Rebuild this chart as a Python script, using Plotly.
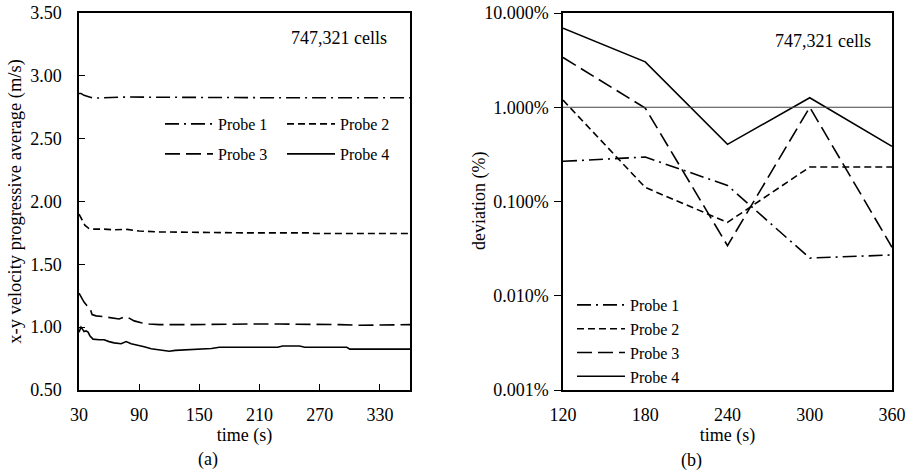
import plotly.graph_objects as go

# ---------------- (a) x-y velocity progressive average ----------------
probe1_t = [30, 32, 35, 38, 42, 46, 55, 65, 80, 100, 130, 160, 200, 240, 280, 320, 360]
probe1_v = [2.86, 2.86, 2.845, 2.835, 2.828, 2.823, 2.826, 2.832, 2.832, 2.83, 2.828, 2.826, 2.825, 2.825, 2.825, 2.825, 2.825]

probe2_t = [30, 33, 36, 40, 45, 55, 65, 78, 90, 110, 130, 150, 160, 200, 260, 265, 300, 360]
probe2_v = [1.90, 1.86, 1.81, 1.785, 1.78, 1.78, 1.775, 1.778, 1.765, 1.758, 1.755, 1.752, 1.752, 1.75, 1.75, 1.745, 1.745, 1.745]

probe3_t = [30, 32, 35, 38, 41, 43, 47, 53, 58, 65, 70, 75, 78, 85, 92, 100, 110, 140, 170, 200, 230, 260, 290, 310, 330, 360]
probe3_v = [1.27, 1.24, 1.20, 1.17, 1.15, 1.10, 1.09, 1.085, 1.08, 1.07, 1.065, 1.08, 1.08, 1.05, 1.035, 1.025, 1.02, 1.02, 1.025, 1.025, 1.025, 1.025, 1.02, 1.015, 1.015, 1.02]

probe4_t = [30, 31, 32, 33, 35, 37, 39, 41, 44, 50, 55, 60, 65, 72, 77, 82, 88, 95, 102, 110, 116, 120, 126, 140, 155, 162, 170, 200, 228, 233, 250, 255, 297, 300, 360]
probe4_v = [0.96, 0.99, 1.0, 0.99, 0.965, 0.97, 0.96, 0.93, 0.905, 0.90, 0.90, 0.885, 0.875, 0.868, 0.885, 0.868, 0.86, 0.845, 0.828, 0.82, 0.81, 0.808, 0.815, 0.82, 0.822, 0.83, 0.84, 0.84, 0.84, 0.85, 0.85, 0.84, 0.84, 0.825, 0.825]

# ---------------- (b) deviation (%) ----------------
dev_t = [120, 180, 240, 300, 360]
dev_probe1 = [0.267, 0.296, 0.148, 0.0251, 0.0271]
dev_probe2 = [1.19, 0.141, 0.060, 0.232, 0.232]
dev_probe3 = [3.37, 0.98, 0.034, 1.0, 0.0327]
dev_probe4 = [6.9, 3.03, 0.404, 1.26, 0.385]
threshold = 1.0

a_xticks = [30, 90, 150, 210, 270, 330]
a_yticks = [0.5, 1.0, 1.5, 2.0, 2.5, 3.0, 3.5]
b_xticks = [120, 180, 240, 300, 360]
b_yticks = [0.001, 0.01, 0.1, 1, 10]
b_yticklabels = ["0.001%", "0.010%", "0.100%", "1.000%", "10.000%"]

names = ["Probe 1", "Probe 2", "Probe 3", "Probe 4"]
dashes = ["14px,5px,2px,5px", "7px,4px", "15px,6px", "solid"]

FONT = "'Liberation Serif', 'Times New Roman', Times, serif"
W, H = 915, 475

fig = go.Figure()

left_series = [(probe1_t, probe1_v), (probe2_t, probe2_v), (probe3_t, probe3_v), (probe4_t, probe4_v)]
for i, (t, v) in enumerate(left_series):
    fig.add_trace(go.Scatter(
        x=t, y=v, mode="lines", name=names[i],
        line=dict(color="black", width=1.6, dash=dashes[i]),
        xaxis="x", yaxis="y",
        legend="legend" if i < 2 else "legend3",
    ))

right_series = [dev_probe1, dev_probe2, dev_probe3, dev_probe4]
for i, v in enumerate(right_series):
    fig.add_trace(go.Scatter(
        x=dev_t, y=v, mode="lines", name=names[i],
        line=dict(color="black", width=1.6, dash=dashes[i]),
        xaxis="x2", yaxis="y2", legend="legend2",
    ))

def px(x):
    return x / W

def py(y):
    return 1 - y / H

ydom = [py(390), py(13)]
axis_common = dict(showline=True, linecolor="black", linewidth=1.5, mirror=True,
                   showgrid=False, zeroline=False, automargin=False,
                   tickfont=dict(family=FONT, size=18, color="black"),
                   tickcolor="black", tickwidth=1.2)

def label(text, x, y, size=18, angle=0):
    return dict(text=text, x=px(x), y=py(y), xref="paper", yref="paper",
                xanchor="center", yanchor="middle", showarrow=False, textangle=angle,
                font=dict(family=FONT, size=size, color="black"))

fig.update_layout(
    template="none",
    width=W, height=H,
    margin=dict(l=0, r=0, t=0, b=0),
    paper_bgcolor="white", plot_bgcolor="white",
    font=dict(family=FONT, color="black", size=18),
    xaxis=dict(domain=[px(79), px(410)], range=[30, 360], tickvals=a_xticks,
               ticks="inside", ticklen=6, anchor="y", ticklabelstandoff=8,
               title=dict(text="time (s)", standoff=0, font=dict(family=FONT, size=18)),
               **axis_common),
    yaxis=dict(domain=ydom, range=[0.5, 3.5], tickvals=a_yticks, tickformat=".2f",
               ticks="inside", ticklen=6, anchor="x", ticklabelstandoff=12,
               title=dict(text="x-y velocity progressive average (m/s)", standoff=4,
                          font=dict(family=FONT, size=18.5)),
               **axis_common),
    xaxis2=dict(domain=[px(563), px(892)], range=[120, 360], tickvals=b_xticks,
                ticks="", anchor="y2", ticklabelstandoff=8,
                title=dict(text="time (s)", standoff=0, font=dict(family=FONT, size=18)),
                **axis_common),
    xaxis3=dict(overlaying="x2", side="top", range=[120, 360], tickvals=b_xticks,
                ticks="inside", ticklen=7, showticklabels=False, showline=False, automargin=False,
                showgrid=False, zeroline=False, tickcolor="black", tickwidth=1.2, anchor="y2"),
    yaxis2=dict(domain=ydom, type="log", range=[-3, 1], tickvals=b_yticks, ticktext=b_yticklabels,
                ticks="outside", ticklen=7, anchor="x2", ticklabelstandoff=2,
                **axis_common),
    legend=dict(orientation="h", x=px(160), y=py(124), xanchor="left", yanchor="middle",
                entrywidth=59, itemwidth=48, font=dict(family=FONT, size=16),
                bgcolor="rgba(0,0,0,0)"),
    legend3=dict(orientation="h", x=px(160), y=py(154), xanchor="left", yanchor="middle",
                 entrywidth=59, itemwidth=48, font=dict(family=FONT, size=16),
                 bgcolor="rgba(0,0,0,0)"),
    legend2=dict(orientation="v", x=px(572), y=py(341), xanchor="left", yanchor="middle",
                 itemwidth=48, font=dict(family=FONT, size=16), tracegroupgap=0,
                 bgcolor="rgba(0,0,0,0)"),
    annotations=[
        label("747,321 cells", 339, 38),
        label("747,321 cells", 823, 41),
        label("(a)", 208, 459),
        label("(b)", 691, 460),
        label("deviation (%)", 479, 201, angle=-90),
    ],
    shapes=[
        dict(type="line", xref="x2 domain", yref="y2", x0=0, x1=1, y0=threshold, y1=threshold,
             line=dict(color="#444444", width=1)),
    ],
)

fig.write_html("out.html")
